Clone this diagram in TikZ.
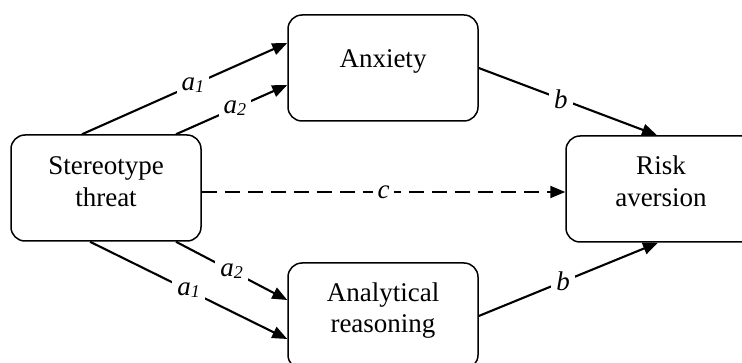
\documentclass[tikz,border=0pt]{standalone}
\usepackage{fontspec}
\setmainfont{Liberation Serif}
\usetikzlibrary{arrows.meta}
\tikzset{
  box/.style={draw, line width=1.5pt, rounded corners=14pt, minimum width=190pt, minimum height=106pt, inner sep=0pt},
  txt/.style={anchor=base, inner sep=0pt, font=\fontsize{27}{32}\selectfont},
  arr/.style={line width=2.1pt, -{Triangle[length=15pt,width=12pt]}},
  dsh/.style={arr, dash pattern=on 15pt off 8pt},
  lbl/.style={fill=white, inner xsep=5pt, inner ysep=3pt, font=\fontsize{27}{27}\selectfont\itshape},
}
\newcommand{\asub}[1]{a\raisebox{-2pt}{\fontsize{18}{18}\selectfont #1}}
\begin{document}
\begin{tikzpicture}[x=1pt,y=-1pt]
\clip (0,0) rectangle (742,363);
\node[box] (st) at (106,188) {};
\node[box] (anx) at (383,68) {};
\node[box] (an) at (383,316) {};
\node[box] (risk) at (661,189) {};
\node[txt] (st1) at ([yshift=13pt]st.center) {Stereotype};
\node[txt] (st2) at ([yshift=-19pt]st.center) {threat};
\node[txt] (anx1) at (anx.center) {Anxiety};
\node[txt] (an1) at ([yshift=14pt]an.center) {Analytical};
\node[txt] (an2) at ([yshift=-17pt]an.center) {reasoning};
\node[txt] (r1) at ([yshift=14pt]risk.center) {Risk};
\node[txt] (r2) at ([yshift=-18pt]risk.center) {aversion};
\draw[arr] ([xshift=-24pt]st.north) -- node[lbl,pos=0.54]{\asub{1}} ([yshift=25pt]anx.west);
\draw[arr] ([xshift=70pt]st.north) -- node[lbl,pos=0.53]{\asub{2}} ([yshift=-17pt]anx.west);
\draw[arr] (anx.east) -- node[lbl,pos=0.46]{b} ([xshift=-4pt]risk.north);
\draw[dsh] ([yshift=-4pt]st.east) -- node[lbl,pos=0.5]{c} ([yshift=-3pt]risk.west);
\draw[arr] ([xshift=70pt]st.south) -- node[lbl,pos=0.5]{\asub{2}} ([yshift=16pt]an.west);
\draw[arr] ([xshift=-16pt]st.south) -- node[lbl,pos=0.5]{\asub{1}} ([yshift=-23pt]an.west);
\draw[arr] (an.east) -- node[lbl,pos=0.47]{b} ([xshift=-3pt]risk.south);
\end{tikzpicture}
\end{document}
